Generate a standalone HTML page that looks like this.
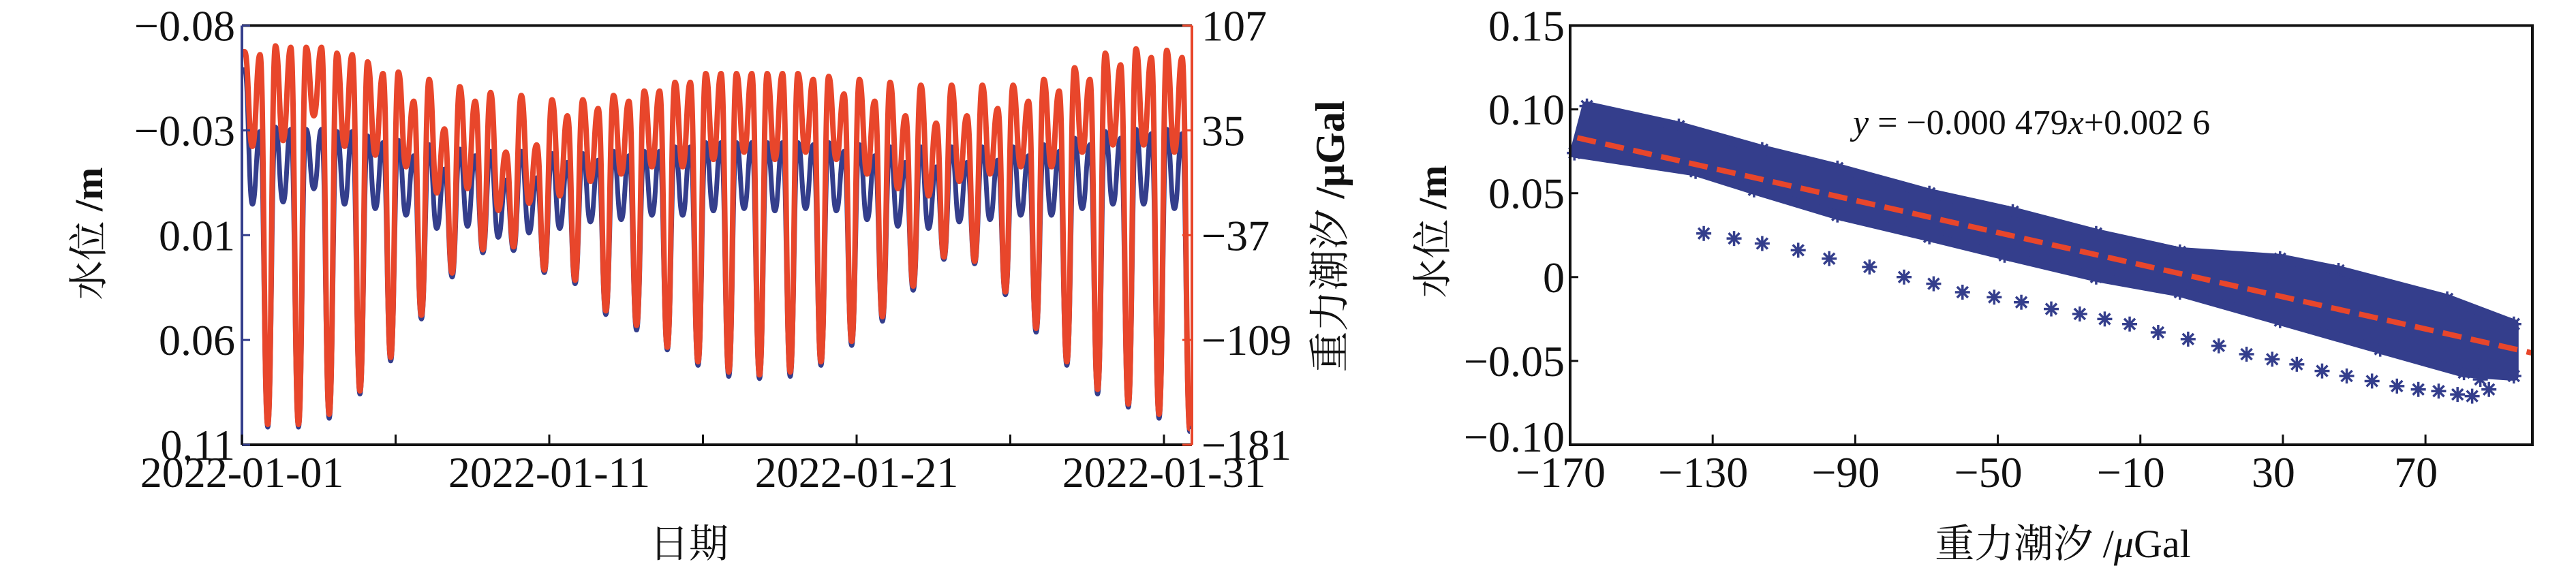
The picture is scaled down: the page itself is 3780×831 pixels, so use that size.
<!DOCTYPE html>
<html><head><meta charset="utf-8"><style>
html,body{margin:0;padding:0;background:#fff;}
svg{display:block;}
text{font-family:"Liberation Serif","Noto Serif CJK SC","Noto Sans CJK SC",serif;fill:#111;}
</style></head><body>
<svg id="fig" width="3780" height="831" viewBox="0 0 3780 831" xmlns="http://www.w3.org/2000/svg">
<g id="left-chart"></g>
<g id="right-chart"></g>
</svg>
<script>
// ---------- Left chart data (per day: peak1, mid-low, peak2, deep-low) ----------
const gravPeak1 = [89,93,92,88,82,75,70,65,61,59,56,56,59,62,68,74,74,74,74,72,70,68,66,66,66,66,70,78,88,91,90];
const gravMid   = [24,28,45,24,18,10,-8,-5,-20,-15,-10,0,5,10,10,15,20,15,20,15,5,-5,-10,0,5,10,10,20,25,25,20];
const gravPeak2 = [87,92,92,87,74,55,36,55,20,25,45,50,55,62,68,74,74,74,70,60,55,45,40,45,50,55,62,70,80,85,85];
const gravDeep  = [-167,-167,-160,-144,-121,-92,-63,-47,-45,-61,-68,-89,-99,-114,-124,-131,-133,-131,-124,-110,-93,-72,-52,-55,-76,-101,-124,-143,-153,-160,-170];
const wlPeak1 = [-0.060,-0.034,-0.033,-0.032,-0.030,-0.028,-0.026,-0.024,-0.023,-0.023,-0.022,-0.022,-0.023,-0.023,-0.025,-0.027,-0.027,-0.027,-0.027,-0.027,-0.026,-0.025,-0.025,-0.025,-0.025,-0.025,-0.026,-0.029,-0.032,-0.033,-0.033];
const wlMid   = [0.001,0.000,-0.006,0.001,0.003,0.006,0.012,0.011,0.016,0.014,0.012,0.009,0.008,0.006,0.006,0.004,0.003,0.004,0.003,0.004,0.008,0.011,0.012,0.009,0.008,0.006,0.006,0.003,0.001,0.001,0.003];
const wlPeak2 = [-0.032,-0.033,-0.033,-0.032,-0.027,-0.021,-0.015,-0.021,-0.010,-0.011,-0.018,-0.019,-0.021,-0.023,-0.025,-0.027,-0.027,-0.027,-0.026,-0.023,-0.021,-0.018,-0.016,-0.018,-0.019,-0.021,-0.023,-0.026,-0.029,-0.031,-0.031];
const wlDeep  = [0.102,0.102,0.098,0.087,0.072,0.053,0.034,0.023,0.022,0.032,0.037,0.051,0.058,0.067,0.074,0.079,0.080,0.079,0.074,0.065,0.054,0.040,0.026,0.028,0.042,0.059,0.074,0.087,0.093,0.098,0.104];
const leftTickLabels = ["−0.08","−0.03","0.01","0.06","0.11"];
const rightTickLabels = ["107","35","−37","−109","−181"];
const dateTicks = [0,5,10,15,20,25,30];
const dateLabels = ["2022-01-01","","2022-01-11","","2022-01-21","","2022-01-31"];

// ---------- Right chart data ----------
const upperEdgeX = [-165.3,-139.5,-116.1,-95.0,-69.2,-45.8,-22.4,1.1,29.2,45.6,76.1,94.8];
const upperEdgeY = [0.102,0.090,0.076,0.065,0.050,0.039,0.026,0.015,0.011,0.004,-0.013,-0.028];
const lowerEdgeX = [94.8,80.8,57.3,29.2,1.1,-22.4,-48.1,-69.2,-95.0,-118.4,-134.8,-168.8];
const lowerEdgeY = [-0.059,-0.057,-0.043,-0.026,-0.009,0.000,0.013,0.024,0.037,0.052,0.063,0.074];
const loopX = [-132.5,-124,-116.1,-106,-97.3,-86,-76.3,-68,-59.9,-51,-43.4,-35,-27.0,-20,-13.0,-5,3.4,12,19.8,27,33.9,41,47.9,55,62.0,68,73.7,79,83.1,87.8,85.4];
const loopY = [0.026,0.023,0.020,0.016,0.011,0.006,0.000,-0.004,-0.009,-0.012,-0.015,-0.019,-0.022,-0.025,-0.028,-0.033,-0.037,-0.041,-0.046,-0.049,-0.052,-0.056,-0.059,-0.062,-0.065,-0.067,-0.068,-0.070,-0.071,-0.067,-0.061];
const fitSlope = -0.000479, fitIntercept = 0.0026;
const sxTicks = [-170,-130,-90,-50,-10,30,70];
const syTicks = [0.15,0.10,0.05,0,-0.05,-0.10];
const syLabels = ["0.15","0.10","0.05","0","−0.05","−0.10"];

const NS="http://www.w3.org/2000/svg";
function mk(tag, parent, attrs){const e=document.createElementNS(NS,tag);for(const k in attrs)e.setAttribute(k,attrs[k]);parent.appendChild(e);return e;}
const RED="#E8462B", BLUE="#343E8C";

// ===== LEFT =====
const L=document.getElementById('left-chart');
const LX0=355,LX1=1749,LY0=37.5,LY1=653;
const xT=t=>LX0+t*45.1;
const yW=w=>LY0+(w+0.08)/0.19*(LY1-LY0);
const yG=g=>LY0+(107-g)/288*(LY1-LY0);
const offs=[0.09,0.34,0.59,0.84];
function seriesPath(a,b,c,d,yf){
  const pts=[];
  for(let i=0;i<a.length;i++){[a[i],b[i],c[i],d[i]].forEach((v,j)=>pts.push([xT(i+offs[j]),yf(v)]));}
  let s=`M${LX0+2},${pts[0][1]}L${pts[0][0]},${pts[0][1]}`;
  for(let i=1;i<pts.length;i++){const p=pts[i-1],q=pts[i],m=(p[0]+q[0])/2;s+=`C${m},${p[1]} ${m},${q[1]} ${q[0]},${q[1]}`;}
  return s;
}
const bl=mk('path',L,{d:seriesPath(wlPeak1,wlMid,wlPeak2,wlDeep,yW),fill:'none',stroke:BLUE,'stroke-width':7,'stroke-linejoin':'miter'});


const rl=mk('path',L,{d:seriesPath(gravPeak1,gravMid,gravPeak2,gravDeep,yG),fill:'none',stroke:RED,'stroke-width':8,'stroke-linejoin':'miter'});


// frame
const ft=mk('line',L,{x1:LX0,y1:LY0,x2:LX1,y2:LY0,stroke:'#111','stroke-width':4});


const fb=mk('line',L,{x1:LX0,y1:LY1,x2:LX1,y2:LY1,stroke:'#111','stroke-width':4});


const fl=mk('line',L,{x1:LX0,y1:LY0,x2:LX0,y2:LY1,stroke:BLUE,'stroke-width':4});


const fr=mk('line',L,{x1:LX1,y1:LY0,x2:LX1,y2:LY1,stroke:RED,'stroke-width':4});


leftTickLabels.forEach((lab,i)=>{
  const y=LY0+i*(LY1-LY0)/(leftTickLabels.length-1);
  const tk=mk('line',L,{x1:LX0,y1:y,x2:LX0+12,y2:y,stroke:BLUE,'stroke-width':3});
  
  
  const t=mk('text',L,{x:LX0-10,y:y+22,'font-size':64,'text-anchor':'end'});t.textContent=lab;
  
  
});
rightTickLabels.forEach((lab,i)=>{
  const y=LY0+i*(LY1-LY0)/(rightTickLabels.length-1);
  const tk=mk('line',L,{x1:LX1-14,y1:y,x2:LX1,y2:y,stroke:RED,'stroke-width':3});
  
  
  const t=mk('text',L,{x:LX1+14,y:y+22,'font-size':64,'text-anchor':'start'});t.textContent=lab;
  
  
});
dateTicks.forEach((d,i)=>{
  const x=xT(d);
  const tk=mk('line',L,{x1:x,y1:LY1,x2:x,y2:LY1-15,stroke:'#111','stroke-width':3});
  
  
  if(dateLabels[i]){const t=mk('text',L,{x:x,y:715,'font-size':64,'text-anchor':'middle'});t.textContent=dateLabels[i];
  
  }
});
const lyt=mk('text',L,{x:0,y:0,'font-size':58,'text-anchor':'middle',transform:'translate(150,343) rotate(-90)'});
lyt.innerHTML='水位 <tspan font-weight="bold">/m</tspan>';


const ryt=mk('text',L,{x:0,y:0,'font-size':60,'text-anchor':'middle',transform:'translate(1972,347) rotate(-90)'});
ryt.innerHTML='重力潮汐 <tspan font-weight="bold">/μGal</tspan>';


const lxt=mk('text',L,{x:1011,y:818,'font-size':58,'text-anchor':'middle'});lxt.textContent='日期';



// ===== RIGHT =====
const R=document.getElementById('right-chart');
const RX0=2304,RX1=3716,RY0=37.5,RY1=653;
const sx=v=>RX0+(v+170)*(RX1-RX0)/270;
const sy=v=>RY0+(0.15-v)*(RY1-RY0)/0.25;
let poly='';
upperEdgeX.forEach((x,i)=>poly+=(i?'L':'M')+sx(x)+','+sy(upperEdgeY[i]));
lowerEdgeX.forEach((x,i)=>poly+='L'+sx(x)+','+sy(lowerEdgeY[i]));
const band=mk('path',R,{d:poly+'Z',fill:BLUE,stroke:BLUE,'stroke-width':14,'stroke-linejoin':'round'});


function star(x,y){
  const g=mk('g',R,{stroke:BLUE,'stroke-width':3.5});
  
  
  mk('line',g,{x1:x-11,y1:y,x2:x+11,y2:y});
  mk('line',g,{x1:x,y1:y-11,x2:x,y2:y+11});
  mk('line',g,{x1:x-8,y1:y-8,x2:x+8,y2:y+8});
  mk('line',g,{x1:x-8,y1:y+8,x2:x+8,y2:y-8});
}
upperEdgeX.forEach((x,i)=>star(sx(x),sy(upperEdgeY[i])));
lowerEdgeX.forEach((x,i)=>star(sx(x),sy(lowerEdgeY[i])));
loopX.forEach((x,i)=>star(sx(x),sy(loopY[i])));
const fx0=-168,fx1=100;
const fit=mk('line',R,{x1:sx(fx0),y1:sy(fitSlope*fx0+fitIntercept),x2:sx(fx1),y2:sy(fitSlope*fx1+fitIntercept),stroke:RED,'stroke-width':8,'stroke-dasharray':'28 14'});


const fr2=mk('rect',R,{x:RX0,y:RY0,width:RX1-RX0,height:RY1-RY0,fill:'none',stroke:'#111','stroke-width':4});


syTicks.forEach((v,i)=>{
  const y=sy(v);
  const tk=mk('line',R,{x1:RX0,y1:y,x2:RX0+12,y2:y,stroke:'#111','stroke-width':3});
  
  
  const t=mk('text',R,{x:RX0-8,y:Math.min(y+22,RY1+10),'font-size':64,'text-anchor':'end'});t.textContent=syLabels[i];
  
  
});
sxTicks.forEach(v=>{
  const x=sx(v);
  const tk=mk('line',R,{x1:x,y1:RY1,x2:x,y2:RY1-15,stroke:'#111','stroke-width':3});
  
  
  const t=mk('text',R,{x:x-14,y:715,'font-size':64,'text-anchor':'middle'});t.textContent=String(v).replace('-','−');
  
  
});
const eq=mk('text',R,{x:2719,y:197,'font-size':52});
eq.innerHTML='<tspan font-style="italic">y</tspan> = −0.000 479<tspan font-style="italic">x</tspan>+0.002 6';


const syt=mk('text',R,{x:0,y:0,'font-size':58,'text-anchor':'middle',transform:'translate(2122,340) rotate(-90)'});
syt.innerHTML='水位 <tspan font-weight="bold">/m</tspan>';


const sxt=mk('text',R,{x:3027,y:818,'font-size':58,'text-anchor':'middle'});
sxt.innerHTML='重力潮汐 /<tspan font-style="italic">μ</tspan>Gal';


</script>
</body></html>
